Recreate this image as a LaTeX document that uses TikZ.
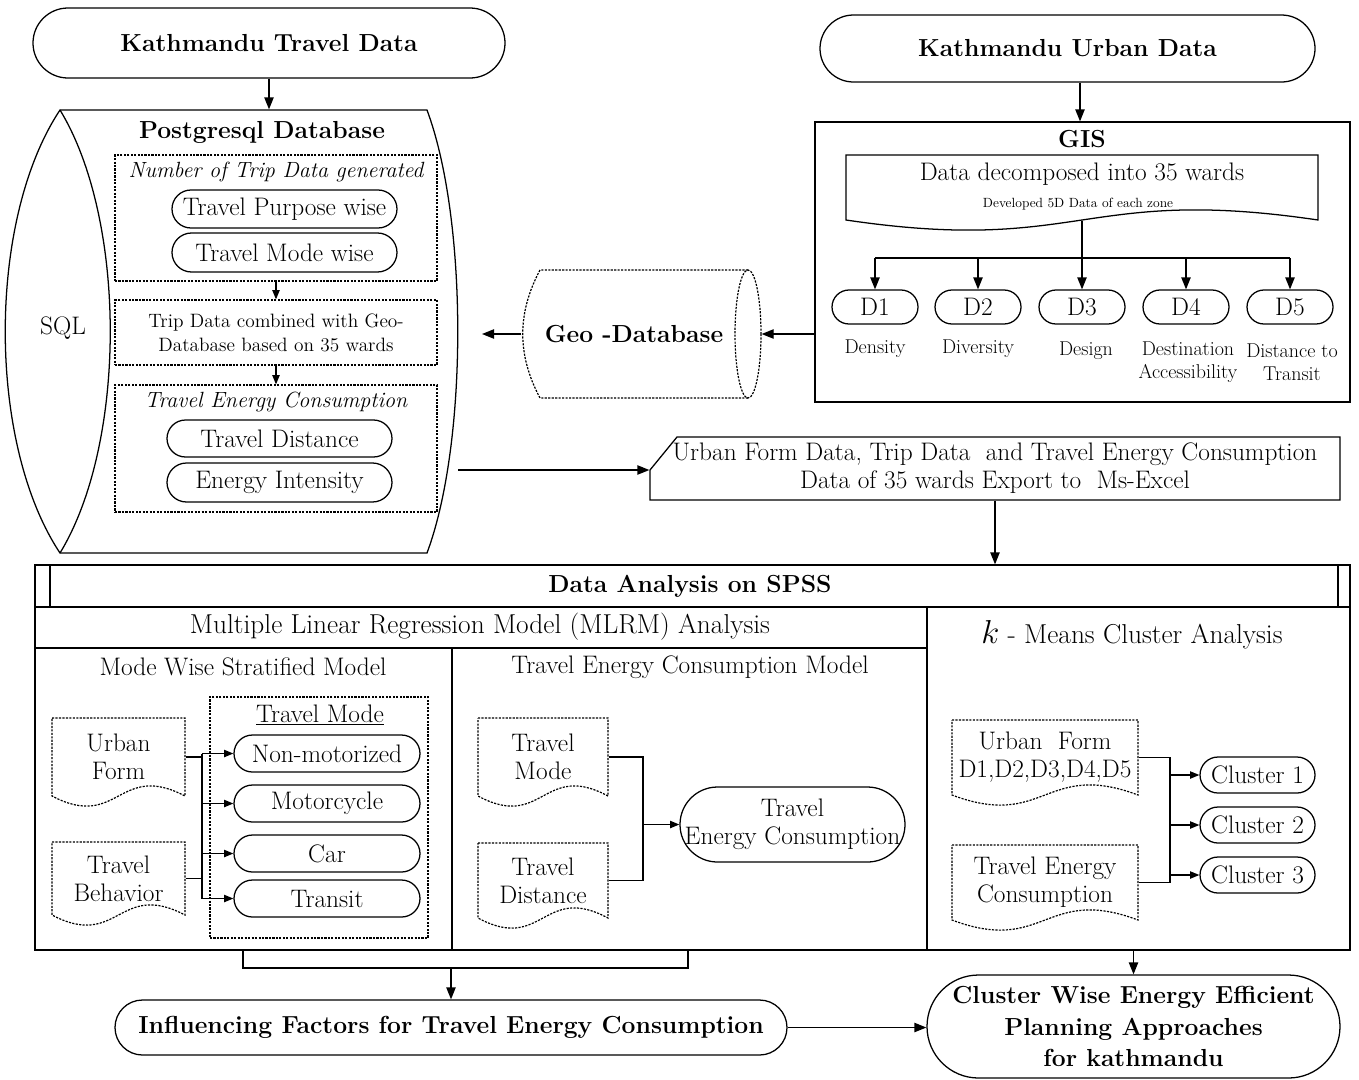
\documentclass[tikz,border=0pt]{standalone}
\usetikzlibrary{arrows.meta,calc}
\newcommand\docpath[5]{\draw[#1] (#2,#3) -- (#4,#3) -- (#4,#5) .. controls ({(#2+#4)/2},#5-35) and ({(#2+#4)/2},#5+35) .. (#2,#5) -- cycle;}
% \mkbox{options}{name}{x1}{y1}{x2}{y2}{text}
\newcommand\mkbox[7]{%
  \pgfmathsetmacro\mkW{((#5)-(#3))*0.75}%
  \pgfmathsetmacro\mkH{((#6)-(#4))*0.75}%
  \pgfmathsetmacro\mkR{((#6)-(#4))*0.375}%
  \node[#1, minimum width=\mkW pt, minimum height=\mkH pt] (#2) at ({((#3)+(#5))/2},{((#4)+(#6))/2}) {#7};}
\begin{document}
\begin{tikzpicture}[x=0.75pt,y=-0.75pt,
  line width=0.95pt,
  arr/.style={-{Triangle[length=9pt,width=7pt]}},
  sarr/.style={-{Triangle[length=7pt,width=5.5pt]}},
  ddash/.style={line width=0.9pt, dash pattern=on 1.6pt off 1pt},
  dotbox/.style={draw, ddash, rectangle, inner sep=0pt},
  stad/.style={draw, rectangle, inner sep=0pt, rounded corners=\mkR pt},
  box/.style={rectangle, inner sep=0pt},
  fb/.style={font=\fontsize{18.5}{23.5}\selectfont\bfseries},
  fn/.style={font=\fontsize{19}{21}\selectfont},
  fm/.style={font=\fontsize{20.5}{23}\selectfont},
  fi/.style={font=\fontsize{16.5}{20}\selectfont\itshape},
  fs/.style={font=\fontsize{14.5}{18}\selectfont},
  fl/.style={font=\fontsize{15}{17}\selectfont},
  ft/.style={font=\fontsize{10}{12}\selectfont},
]
\path[use as bounding box, fill=white] (0,0) rectangle (1359,1079);

% ---------- top terminators
\mkbox{stad, fb}{ktd}{33}{8}{505}{78}{Kathmandu Travel Data}
\mkbox{stad, fb}{kud}{820}{15}{1315}{82}{Kathmandu Urban Data}

% ---------- Postgresql cylinder
\draw (60,110) -- (427,110) .. controls (468,220) and (468,443) .. (427,553) -- (60,553)
      .. controls (-13,443) and (-13,220) .. (60,110) -- cycle;
\draw (60,110) .. controls (127,220) and (127,443) .. (60,553);
\mkbox{box}{pg}{5}{110}{460}{553}{}
\coordinate (pgE) at (482,334);
\coordinate (pgX) at (458,470);
\node[fb] (pgt) at (262,132) {Postgresql Database};
\node[fn] (sql) at (63,328) {SQL};
\draw[arr] (ktd.south) -- (ktd.south |- pg.north);

\mkbox{dotbox}{ntd}{115}{155}{437}{281}{}
\node[fi] (ntdt) at (276,172) {Number of Trip Data generated};
\mkbox{stad, fn}{tpw}{172}{190}{397}{228}{Travel Purpose wise}
\mkbox{stad, fn}{tmw}{172}{233}{397}{272}{Travel Mode wise}
\mkbox{dotbox, fs, align=center}{tdc}{115}{300}{437}{365}{Trip Data combined with Geo-\\Database based on 35 wards}
\mkbox{dotbox}{tec}{115}{385}{437}{512}{}
\node[fi] (tect) at (276,402) {Travel Energy Consumption};
\mkbox{stad, fn}{tdist}{167}{420}{392}{457}{Travel Distance}
\mkbox{stad, fn}{ei}{167}{463}{392}{502}{Energy Intensity}
\draw[sarr] (ntd.south) -- (tdc.north);
\draw[sarr] (tdc.south) -- (tec.north);

% ---------- GIS
\mkbox{draw, box}{gis}{815}{122}{1350}{402}{}
\draw[arr] (kud.south -| 1080,0) -- (gis.north -| 1080,0);
\node[fb] (gist) at (1082,139) {GIS};
\docpath{}{846}{155}{1318}{220}
\mkbox{box}{dd}{846}{155}{1318}{220}{}
\node[fn] (ddt) at (1082,174) {Data decomposed into 35 wards};
\node[ft] (ddt2) at (1078,204) {Developed 5D Data of each zone};
\foreach \i/\x in {1/875,2/978,3/1082,4/1186,5/1290}
  {\mkbox{stad, fn}{d\i}{\x-43}{290}{\x+43}{324}{D\i}}
\coordinate (bus) at (1082,258);
\draw (dd.south) -- (bus);
\draw (d1.north |- bus) -- (d5.north |- bus);
\foreach \i in {1,...,5} \draw[arr] (d\i.north |- bus) -- (d\i.north);
\node[fl] (l1) at (875,349) {Density};
\node[fl] (l2) at (978,349) {Diversity};
\node[fl] (l3) at (1086,351) {Design};
\node[fl, align=center] (l4) at (1188,362) {Destination\\Accessibility};
\node[fl, align=center] (l5) at (1292,362) {Distance to\\Transit};

% ---------- Geo-Database
\draw[ddash] (748,270) -- (540,270) .. controls (517,313) and (517,355) .. (540,398) -- (748,398);
\draw[ddash] (748,334) ellipse [x radius=13, y radius=64];
\mkbox{box}{geo}{522}{270}{761}{398}{}
\node[fb] (geot) at (634,334) {Geo -Database};
\draw[arr] (gis.west |- geo.east) -- (geo.east);
\draw[arr] (geo.west) -- (pgE);

% ---------- export
\draw (677,437) -- (1340,437) -- (1340,500) -- (650,500) -- (650,470) -- cycle;
\mkbox{box, fn, align=center}{exp}{650}{437}{1340}{500}{Urban Form Data, Trip Data\ \ and Travel Energy Consumption\\Data of 35 wards Export to\ \ Ms-Excel}
\draw[arr] (pgX) -- (exp.west |- pgX);

% ---------- SPSS
\mkbox{draw, box}{spss}{35}{565}{1350}{950}{}
\draw[arr] (exp.south) -- (exp.south |- spss.north);
\draw (50,565) -- (50,607);
\draw (1338,565) -- (1338,607);
\draw (35,607) -- (1350,607);
\draw (35,648) -- (927,648);
\draw (927,607) -- (927,950);
\draw (452,648) -- (452,950);
\node[fb] (spsst) at (690,586) {Data Analysis on SPSS};
\node[fm] (mlrm) at (480,627) {Multiple Linear Regression Model (MLRM) Analysis};
\node[fm] (kmt) at (1132,635) {{\fontsize{26}{26}\selectfont$k$} - Means Cluster Analysis};
\node[fn] (mwt) at (243,667) {Mode Wise Stratified Model};
\node[fn] (tecm) at (690,667) {Travel Energy Consumption Model};

% mode wise
\docpath{ddash}{52}{718}{185}{796}
\mkbox{box, fn, align=center}{uf}{52}{718}{185}{796}{Urban\\Form}
\docpath{ddash}{52}{842}{185}{915}
\mkbox{box, fn, align=center}{tb}{52}{842}{185}{915}{Travel\\Behavior}
\mkbox{dotbox}{tmb}{210}{697}{428}{938}{}
\node[fn] (tmt) at (320,715) {\underline{Travel Mode}};
\mkbox{stad, fn}{nm}{234}{735}{420}{772}{Non-motorized}
\mkbox{stad, fn}{mc}{234}{785}{420}{822}{Motorcycle}
\mkbox{stad, fn}{car}{234}{835}{420}{872}{Car}
\mkbox{stad, fn}{trn}{234}{880}{420}{917}{Transit}
\coordinate (mb) at (202,0);
\draw (uf.east) -- (uf.east -| mb);
\draw (tb.east) -- (tb.east -| mb);
\draw (mb |- nm) -- (mb |- trn);
\foreach \n in {nm,mc,car,trn} \draw[sarr] (mb |- \n) -- (\n.west);

% TEC model
\docpath{ddash}{478}{718}{608}{796}
\mkbox{box, fn, align=center}{tmd}{478}{718}{608}{796}{Travel\\Mode}
\docpath{ddash}{478}{843}{608}{918}
\mkbox{box, fn, align=center}{tdd}{478}{843}{608}{918}{Travel\\Distance}
\mkbox{stad, fn, align=center}{tecn}{680}{787}{905}{862}{Travel\\Energy Consumption}
\coordinate (tb2) at (643,0);
\draw (tmd.east) -- (tmd.east -| tb2) -- (tdd.east -| tb2) -- (tdd.east);
\draw[sarr] (tb2 |- tecn) -- (tecn.west);

% k-means
\docpath{ddash}{952}{720}{1138}{795}
\mkbox{box, fn, align=center}{ufk}{952}{720}{1138}{795}{Urban\ \ Form\\D1,D2,D3,D4,D5}
\docpath{ddash}{952}{845}{1138}{920}
\mkbox{box, fn, align=center}{tek}{952}{845}{1138}{920}{Travel Energy\\Consumption}
\mkbox{stad, fn}{c1}{1200}{757}{1315}{793}{Cluster 1}
\mkbox{stad, fn}{c2}{1200}{807}{1315}{843}{Cluster 2}
\mkbox{stad, fn}{c3}{1200}{857}{1315}{893}{Cluster 3}
\coordinate (kb) at (1170,0);
\draw (ufk.east) -- (ufk.east -| kb) -- (tek.east -| kb) -- (tek.east);
\foreach \n in {c1,c2,c3} \draw[sarr] (kb |- \n) -- (\n.west);

% ---------- bottom
\mkbox{stad, fb}{infl}{115}{1000}{787}{1055}{Influencing Factors for Travel Energy Consumption}
\mkbox{stad, fb, align=center}{cw}{927}{975}{1340}{1078}{Cluster Wise Energy Efficient\\Planning Approaches\\for kathmandu}
\coordinate (brA) at (243,950);
\coordinate (brB) at (688,950);
\draw (brA) -- (243,968) -- (688,968) -- (brB);
\draw[arr] (infl.north |- brA) ++(0,18) -- (infl.north);
\draw[arr] (infl.east) -- (infl.east -| cw.west);
\draw[arr] (cw.north |- spss.south) -- (cw.north);
\end{tikzpicture}
\end{document}
